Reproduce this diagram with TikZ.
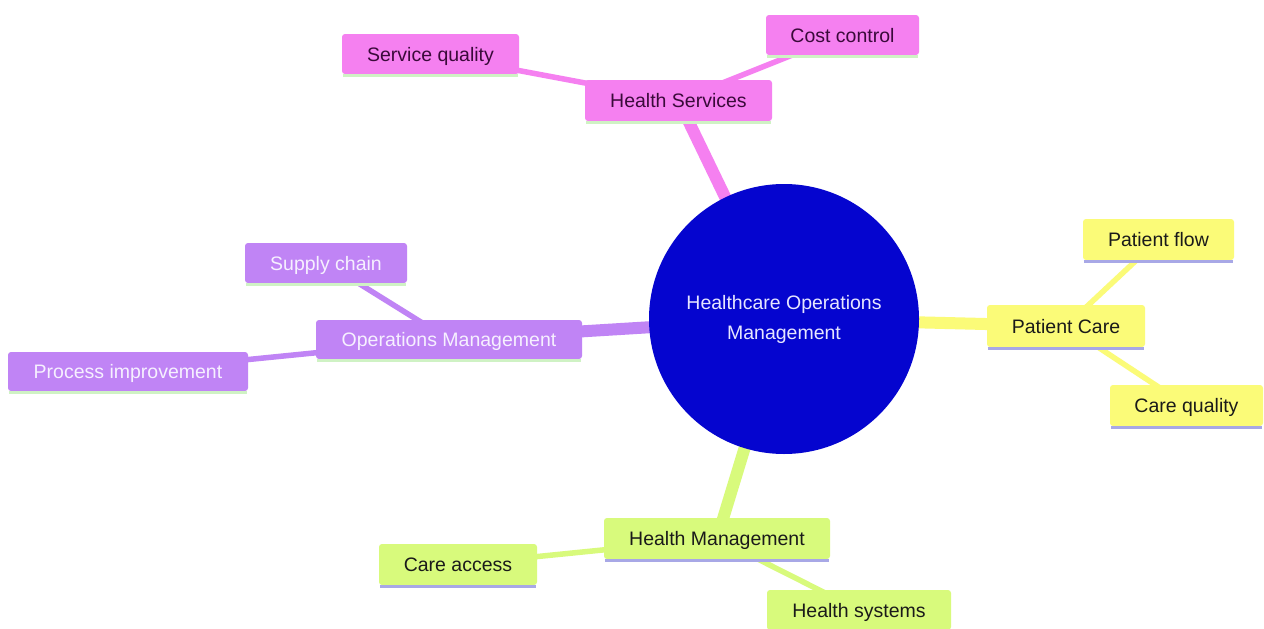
\documentclass[tikz,border=0pt]{standalone}
\usepackage{fontspec}
\setmainfont{Liberation Sans}
\usetikzlibrary{backgrounds}
\definecolor{pinkf}{HTML}{F580F0}
\definecolor{pinkt}{HTML}{3A0A3A}
\definecolor{purpf}{HTML}{C084F5}
\definecolor{purpt}{HTML}{F6F0FF}
\definecolor{yelf}{HTML}{FBFB78}
\definecolor{grnf}{HTML}{D8FA7C}
\definecolor{darkt}{HTML}{1A1A1A}
\definecolor{ulgreen}{HTML}{CFF2C4}
\definecolor{ullav}{HTML}{A8A8E6}
\definecolor{rootf}{HTML}{0505CF}
\definecolor{roott}{HTML}{E6E6FF}
\tikzset{
  mmbox/.style 2 args={rectangle, rounded corners=3pt, inner sep=0pt, fill=#1,
    font=\fontsize{19.5}{24}\selectfont, text height=14pt, text depth=0pt,
    append after command={([yshift=-1.2pt,xshift=1pt]\tikzlastnode.south west) edge[draw=#2, line width=2.6pt] ([yshift=-1.2pt,xshift=-1pt]\tikzlastnode.south east)}},
  pinknode/.style={mmbox={pinkf}{ulgreen}, text=pinkt},
  purpnode/.style={mmbox={purpf}{ulgreen}, text=purpt},
  yelnode/.style={mmbox={yelf}{ullav}, text=darkt},
  grnnode/.style={mmbox={grnf}{ullav}, text=darkt},
  rootnode/.style={circle, fill=rootf, text=roott, minimum size=270pt, inner sep=0pt,
    align=center, font=\fontsize{19.5}{30}\selectfont},
  thick1/.style={line width=12pt},
  thin2/.style={line width=5.5pt},
}
\begin{document}
\begin{tikzpicture}[x=1pt,y=-1pt]
\begin{pgfonlayer}{background}
\fill[white] (0,0) rectangle (1264,629);
\end{pgfonlayer}
\useasboundingbox (0,0) rectangle (1264,629);

\node[rootnode] (root) at (784,319) {Healthcare Operations\\Management};

\node[pinknode, minimum width=187pt, minimum height=41pt] (hs) at (678.5,100.5) {Health Services};
\node[pinknode, minimum width=177pt, minimum height=40pt] (sq) at (430.5,54) {Service quality};
\node[pinknode, minimum width=153pt, minimum height=40pt] (cc) at (842.5,35) {Cost control};

\node[yelnode, minimum width=158pt, minimum height=42pt] (pc) at (1066,326) {Patient Care};
\node[yelnode, minimum width=151pt, minimum height=41pt] (pf) at (1158.5,239.5) {Patient flow};
\node[yelnode, minimum width=153pt, minimum height=41pt] (cq) at (1186.5,405.5) {Care quality};

\node[purpnode, minimum width=266pt, minimum height=39pt] (om) at (449,339.5) {Operations Management};
\node[purpnode, minimum width=162pt, minimum height=40pt] (sc) at (326,263) {Supply chain};
\node[purpnode, minimum width=240pt, minimum height=39pt] (pi) at (128,371.5) {Process improvement};

\node[grnnode, minimum width=226pt, minimum height=41pt] (hm) at (717,538.5) {Health Management};
\node[grnnode, minimum width=158pt, minimum height=41pt] (ca) at (458,564.5) {Care access};
\node[grnnode, minimum width=184pt, minimum height=40pt] (hsy) at (859,610) {Health systems};

\begin{pgfonlayer}{background}
\draw[pinkf, thick1] (root.center) -- (hs.center);
\draw[pinkf, thin2] (hs.center) -- (sq.center);
\draw[pinkf, thin2] (hs.center) -- (cc.center);
\draw[yelf, thick1] (root.center) -- (pc.center);
\draw[yelf, thin2] (pc.center) -- (pf.center);
\draw[yelf, thin2] (pc.center) -- (cq.center);
\draw[purpf, thick1] (root.center) -- (om.center);
\draw[purpf, thin2] (om.center) -- (sc.center);
\draw[purpf, thin2] (om.center) -- (pi.center);
\draw[grnf, thick1] (root.center) -- (hm.center);
\draw[grnf, thin2] (hm.center) -- (ca.center);
\draw[grnf, thin2] (hm.center) -- (hsy.center);
\end{pgfonlayer}
\end{tikzpicture}
\end{document}
